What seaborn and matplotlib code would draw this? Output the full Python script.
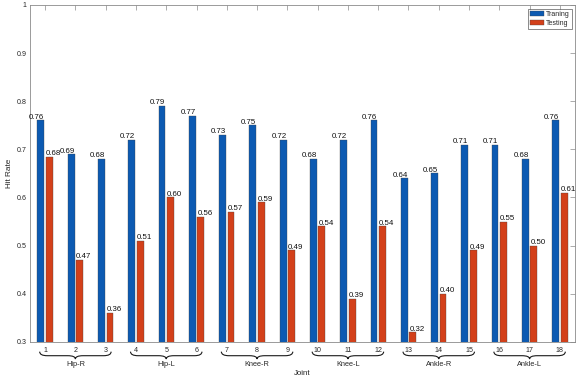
import matplotlib
matplotlib.use('Agg')
import matplotlib.pyplot as plt
import seaborn as sns
import pandas as pd
from matplotlib.path import Path
from matplotlib.patches import PathPatch

# values
joints = [str(i) for i in range(1, 19)]
training = [0.76, 0.69, 0.68, 0.72, 0.79, 0.77, 0.73, 0.75, 0.72,
            0.68, 0.72, 0.76, 0.64, 0.65, 0.71, 0.71, 0.68, 0.76]
testing = [0.684, 0.47, 0.36, 0.51, 0.60, 0.56, 0.57, 0.59, 0.49,
           0.54, 0.39, 0.54, 0.32, 0.40, 0.49, 0.55, 0.50, 0.61]
series_names = ['Traning', 'Testing']
group_names = ['Hip-R', 'Hip-L', 'Knee-R', 'Knee-L', 'Ankle-R', 'Ankle-L']
y_ticks = [0.3, 0.4, 0.5, 0.6, 0.7, 0.8, 0.9, 1.0]
y_tick_labels = ['0.3', '0.4', '0.5', '0.6', '0.7', '0.8', '0.9', '1']

colors = ['#0C5AB2', '#D3401A']
axis_gray = '#8a8a8a'
text_dark = '#262626'

df = pd.DataFrame({
    'Joint': joints * 2,
    'Hit Rate': training + testing,
    'Set': [series_names[0]] * len(joints) + [series_names[1]] * len(joints),
})

sns.set_style('white')
plt.rcParams['font.family'] = ['Liberation Sans', 'DejaVu Sans']

fig = plt.figure(figsize=(5.82, 3.82), dpi=100)
ax = fig.add_axes([0.0515, 0.105, 0.9365, 0.882])

sns.barplot(data=df, x='Joint', y='Hit Rate', hue='Set', order=joints,
            hue_order=series_names, palette=colors, saturation=1,
            width=0.56, gap=0.2, edgecolor='#404040', linewidth=0.25, ax=ax)

ax.set_ylim(0.3, 1.0)
ax.set_xlim(-0.5, len(joints) - 0.5)
ax.set_yticks(y_ticks)
ax.set_yticklabels(y_tick_labels)

for sp in ax.spines.values():
    sp.set_color(axis_gray)
    sp.set_linewidth(0.6)
    sp.set_visible(True)
ax.tick_params(axis='both', direction='in', length=3.5, width=0.5,
               color=axis_gray, labelcolor=text_dark, labelsize=5.1,
               top=True, right=True)
ax.tick_params(axis='x', pad=3.6)
ax.tick_params(axis='y', pad=2.6)

# value labels: training right-aligned at bar edge, testing left-aligned
for k, cont in enumerate(ax.containers):
    for patch in cont.patches:
        h = patch.get_height()
        if k == 0:
            x, ha = patch.get_x() + patch.get_width(), 'right'
        else:
            x, ha = patch.get_x(), 'left'
        ax.annotate(f'{h:.2f}', (x, h), xytext=(0, 1.2), textcoords='offset points',
                    ha=ha, va='baseline', fontsize=5.7, color='#111111')

# curly braces under the tick labels
trans = ax.get_xaxis_transform()
y0, y1, y2 = -0.029, -0.041, -0.051
r = 0.25
for g, name in enumerate(group_names):
    a = g * 3 - 0.18
    b = g * 3 + 2 + 0.18
    m = (a + b) / 2
    verts = [(a, y0), (a, y1), (a + r, y1),
             (m - r, y1), (m, y1), (m, y2),
             (m, y1), (m + r, y1),
             (b - r, y1), (b, y1), (b, y0)]
    codes = [Path.MOVETO, Path.CURVE3, Path.CURVE3,
             Path.LINETO, Path.CURVE3, Path.CURVE3,
             Path.CURVE3, Path.CURVE3,
             Path.LINETO, Path.CURVE3, Path.CURVE3]
    ax.add_patch(PathPatch(Path(verts, codes), transform=trans, fill=False,
                           lw=0.8, edgecolor='#1a1a1a', clip_on=False))
    ax.text(m, -0.066, name, transform=trans, ha='center', va='center',
            fontsize=5.3, color=text_dark)

ax.set_xlabel('Joint', fontsize=5.7, color=text_dark)
ax.xaxis.set_label_coords(0.5, -0.084)
ax.set_ylabel('Hit Rate', fontsize=5.9, color=text_dark)
ax.yaxis.set_label_coords(-0.031, 0.5)

leg = ax.legend(loc='upper right', bbox_to_anchor=(0.994, 0.987), fontsize=5,
                frameon=True, fancybox=False, borderpad=0.25, labelspacing=0.25,
                handlelength=2.1, handleheight=0.8, handletextpad=0.3,
                borderaxespad=0)
leg.get_frame().set_edgecolor('#333333')
leg.get_frame().set_linewidth(0.5)
for t in leg.get_texts():
    t.set_color(text_dark)

fig.savefig('out.png', dpi=100)
